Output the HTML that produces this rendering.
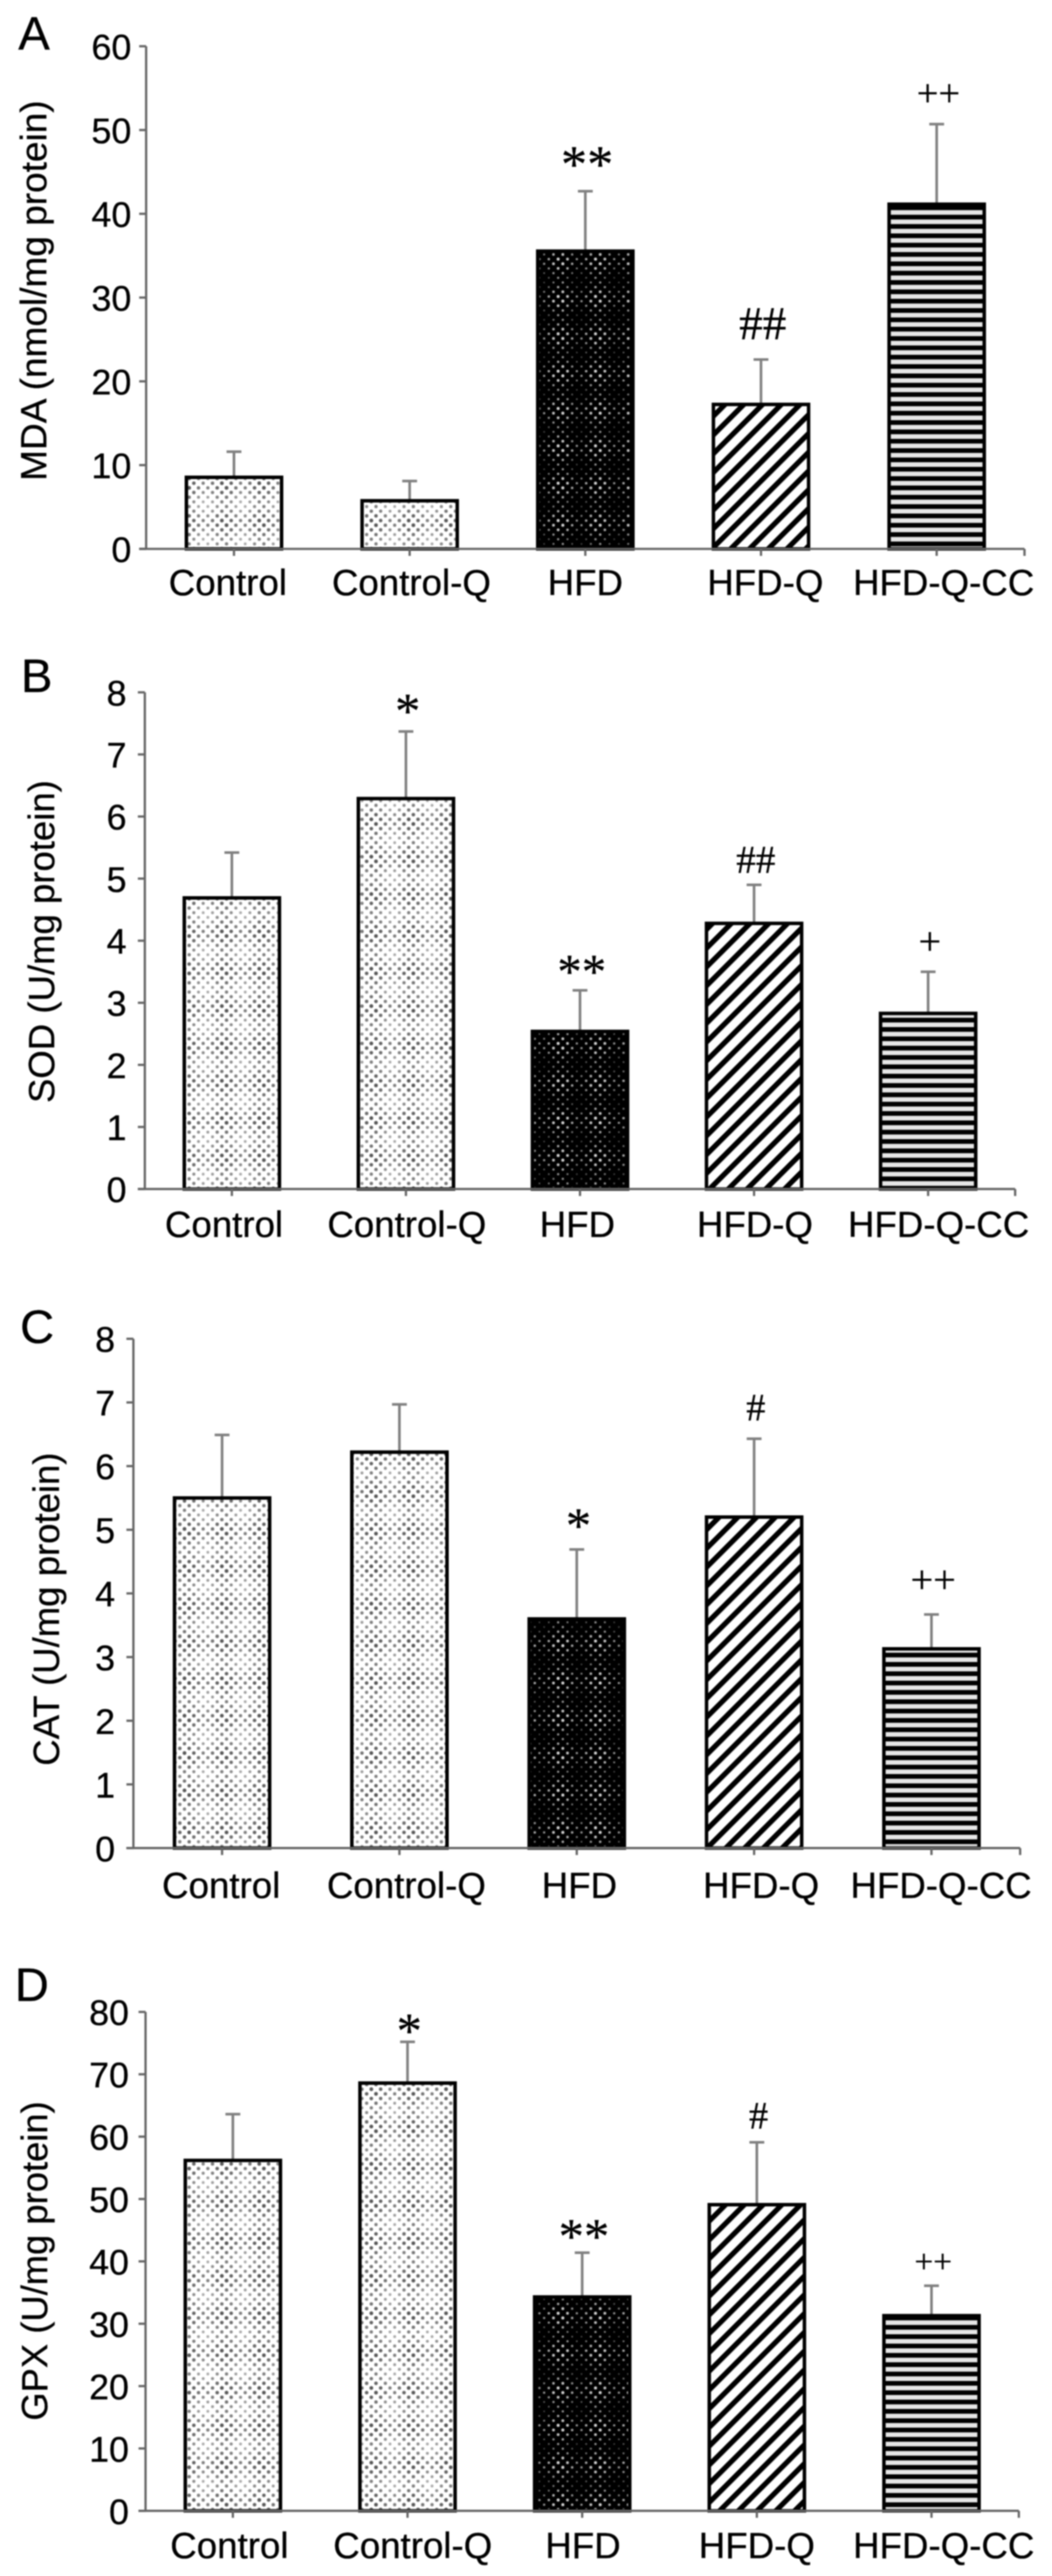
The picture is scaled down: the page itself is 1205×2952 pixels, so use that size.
<!DOCTYPE html>
<html lang="en">
<head>
<meta charset="utf-8">
<title>Oxidative stress markers by group</title>
<style>
html,body{margin:0;padding:0;background:#fff;width:1205px;height:2952px;overflow:hidden}
svg{display:block;filter:blur(0.7px)}
text{font-family:"Liberation Sans",sans-serif;fill:#000;stroke:#000;stroke-width:0.35px}
.sig{font-family:"Liberation Serif",serif;stroke-width:0.3px}
</style>
</head>
<body>
<svg id="figure" xmlns="http://www.w3.org/2000/svg" width="1205" height="2952" viewBox="0 0 1205 2952">
<defs id="defs"></defs>
<rect width="1205" height="2952" fill="#fff"></rect>
</svg>
<script>
const categories = ["Control", "Control-Q", "HFD", "HFD-Q", "HFD-Q-CC"];
const barPatterns = ["light", "light", "dark", "diag", "horiz"];

const mdaTicks = [0, 10, 20, 30, 40, 50, 60];
const mdaValues = [8.7, 5.9, 35.7, 17.4, 41.3];
const mdaErrors = [2.9, 2.2, 7.0, 5.2, 9.4];
const mdaMarks = ["", "", "**", "##", "++"];

const sodTicks = [0, 1, 2, 3, 4, 5, 6, 7, 8];
const sodValues = [4.71, 6.31, 2.56, 4.3, 2.85];
const sodErrors = [0.71, 1.06, 0.64, 0.6, 0.65];
const sodMarks = ["", "*", "**", "##", "+"];

const catTicks = [0, 1, 2, 3, 4, 5, 6, 7, 8];
const catValues = [5.52, 6.24, 3.62, 5.22, 3.15];
const catErrors = [0.97, 0.73, 1.07, 1.21, 0.52];
const catMarks = ["", "", "*", "#", "++"];

const gpxTicks = [0, 10, 20, 30, 40, 50, 60, 70, 80];
const gpxValues = [56.4, 68.8, 34.5, 49.3, 31.5];
const gpxErrors = [7.2, 6.4, 6.9, 9.8, 4.6];
const gpxMarks = ["", "*", "**", "#", "++"];

const NS = "http://www.w3.org/2000/svg";
const svg = document.getElementById("figure");
const defs = document.getElementById("defs");

function make(tag, attrs, parent) {
  const node = document.createElementNS(NS, tag);
  for (const key in attrs) node.setAttribute(key, attrs[key]);
  (parent || svg).appendChild(node);
  return node;
}

function mix(a, b, t) {
  const v = Math.round(a + (b - a) * t);
  return "rgb(" + v + "," + v + "," + v + ")";
}

function dotPattern(id, background, dim, bright, rDim, rBright) {
  const size = 42.8, step = size / 8;
  const pat = make("pattern", {id: id, patternUnits: "userSpaceOnUse", width: size, height: size}, defs);
  make("rect", {width: size, height: size, fill: background}, pat);
  for (let i = 0; i < 8; i++) {
    for (let j = 0; j < 8; j++) {
      if ((i + j) % 2) continue;
      const x = i * step + step / 2, y = j * step + step / 2;
      const t = (2 + Math.cos(2 * Math.PI * x / size) + Math.cos(2 * Math.PI * y / size)) / 4;
      make("circle", {cx: x, cy: y, r: rDim + (rBright - rDim) * t, fill: mix(dim, bright, t)}, pat);
    }
  }
}
dotPattern("light", "#fff", 175, 85, 1.6, 2.2);
dotPattern("dark", "#000", 70, 215, 0.9, 1.8);

const diag = make("pattern", {id: "diag", patternUnits: "userSpaceOnUse", width: 15.2, height: 15.2, patternTransform: "rotate(-45)"}, defs);
make("rect", {width: 15.2, height: 15.2, fill: "#fff"}, diag);
make("rect", {width: 15.2, height: 6, fill: "#000"}, diag);

const horiz = make("pattern", {id: "horiz", patternUnits: "userSpaceOnUse", width: 10.7, height: 10.7}, defs);
make("rect", {width: 10.7, height: 10.7, fill: "#e6e6e6"}, horiz);
make("rect", {width: 10.7, height: 5.4, fill: "#000"}, horiz);

function drawPanel(p) {
  const g = make("g", {});
  
  

  const maxTick = p.ticks[p.ticks.length - 1];
  const yScale = v => p.yBase - (v / maxTick) * (p.yBase - p.yTop);
  const band = (p.xEnd - p.x0) / categories.length;
  const xScale = i => p.x0 + band * (i + 0.5);

  const letter = make("text", {x: p.letterX, y: p.letterY, "font-size": 54}, g);
  
  
  letter.textContent = p.letter;

  const title = make("text", {
    transform: "translate(" + p.titleX + "," + p.titleCenter + ") rotate(-90)",
    "text-anchor": "middle", "font-size": 42, "xml:space": "preserve",
    textLength: p.titleLength, lengthAdjust: "spacingAndGlyphs"
  }, g);
  
  
  title.textContent = p.title;

  const axisStyle = {stroke: "#666", "stroke-width": 2.6, fill: "none"};

  const yAxis = make("line", Object.assign({x1: p.x0, x2: p.x0, y1: p.yTop, y2: p.yBase}, axisStyle), g);
  
  

  p.ticks.forEach(t => {
    const y = yScale(t);
    const tick = make("line", Object.assign({x1: p.x0 - 8, x2: p.x0, y1: y, y2: y}, axisStyle), g);
    
    
    const label = make("text", {x: p.x0 - p.tickGap, y: y + 15, "text-anchor": "end", "font-size": 41}, g);
    
    
    label.textContent = t;
  });

  categories.forEach((name, i) => {
    const cx = xScale(i);
    const top = yScale(p.values[i]);
    const errTop = yScale(p.values[i] + p.errors[i]);

    const err = make("line", {x1: cx, x2: cx, y1: top, y2: errTop, stroke: "#808080", "stroke-width": 3}, g);
    
    

    const cap = make("line", {x1: cx - 8.5, x2: cx + 8.5, y1: errTop, y2: errTop, stroke: "#808080", "stroke-width": 3}, g);
    
    

    const bar = make("rect", {
      x: cx - 54.5, y: top + 1.5, width: 109, height: p.yBase - top - 1.5,
      fill: "url(#" + barPatterns[i] + ")", stroke: "#000", "stroke-width": 4
    }, g);
    
    

    const xTick = make("line", Object.assign({x1: cx, x2: cx, y1: p.yBase, y2: p.yBase + 8}, axisStyle), g);
    
    

    const label = make("text", {
      x: cx + p.labelShift[i], y: p.yBase + p.labelDrop,
      "text-anchor": "middle", "font-size": 42
    }, g);
    
    
    label.textContent = name;

    const mark = p.marks[i];
    if (mark) {
      const size = p.markSize[i];
      const rise = {"*": 0.47, "#": 0.34, "+": 0.25}[mark[0]];
      const note = make("text", {
        class: "sig", x: cx + 2, y: errTop - p.markGap[i] + rise * size,
        "text-anchor": "middle", "font-size": size
      }, g);
      
      
      note.textContent = mark;
    }
  });

  const xAxis = make("line", Object.assign({x1: p.x0 - 8, x2: p.xEnd, y1: p.yBase, y2: p.yBase}, axisStyle), g);
  
  

  const endTick = make("line", Object.assign({x1: p.xEnd, x2: p.xEnd, y1: p.yBase, y2: p.yBase + 8}, axisStyle), g);
  
  
}

drawPanel({
  key: "mda", letter: "A", letterX: 21, letterY: 57,
  title: "MDA  (nmol/mg protein)", titleX: 53, titleCenter: 333, titleLength: 436,
  ticks: mdaTicks, values: mdaValues, errors: mdaErrors, marks: mdaMarks,
  x0: 167.4, xEnd: 1173.5, yTop: 53, yBase: 629, tickGap: 17, labelDrop: 53,
  labelShift: [-7, 2, 0, 5, 8], markSize: [0, 0, 60, 54, 44], markGap: [0, 0, 39, 42, 32]
});
drawPanel({
  key: "sod", letter: "B", letterX: 24, letterY: 793,
  title: "SOD (U/mg protein)", titleX: 62, titleCenter: 1079, titleLength: 370,
  ticks: sodTicks, values: sodValues, errors: sodErrors, marks: sodMarks,
  x0: 165.9, xEnd: 1162.8, yTop: 793.4, yBase: 1362.6, tickGap: 21, labelDrop: 55,
  labelShift: [-9, 1, -3, 1, 12], markSize: [0, 58, 56, 45, 46], markGap: [0, 31, 29, 29, 31]
});
drawPanel({
  key: "cat", letter: "C", letterX: 23, letterY: 1539,
  title: "CAT (U/mg protein)", titleX: 67.6, titleCenter: 1844, titleLength: 359,
  ticks: catTicks, values: catValues, errors: catErrors, marks: catMarks,
  x0: 152.8, xEnd: 1168.5, yTop: 1534.2, yBase: 2117.8, tickGap: 21, labelDrop: 57,
  labelShift: [-1, 8, 3, 8, 11], markSize: [0, 0, 58, 44, 46], markGap: [0, 0, 35, 36, 36]
});
drawPanel({
  key: "gpx", letter: "D", letterX: 17, letterY: 2293,
  title: "GPX (U/mg protein)", titleX: 54, titleCenter: 2591, titleLength: 366,
  ticks: gpxTicks, values: gpxValues, errors: gpxErrors, marks: gpxMarks,
  x0: 166.7, xEnd: 1167, yTop: 2305.6, yBase: 2877.3, tickGap: 19, labelDrop: 54,
  labelShift: [-4, 6, 1, 0, 14], markSize: [0, 58, 58, 44, 38], markGap: [0, 20, 26, 31, 25]
});
</script>
</body>
</html>
